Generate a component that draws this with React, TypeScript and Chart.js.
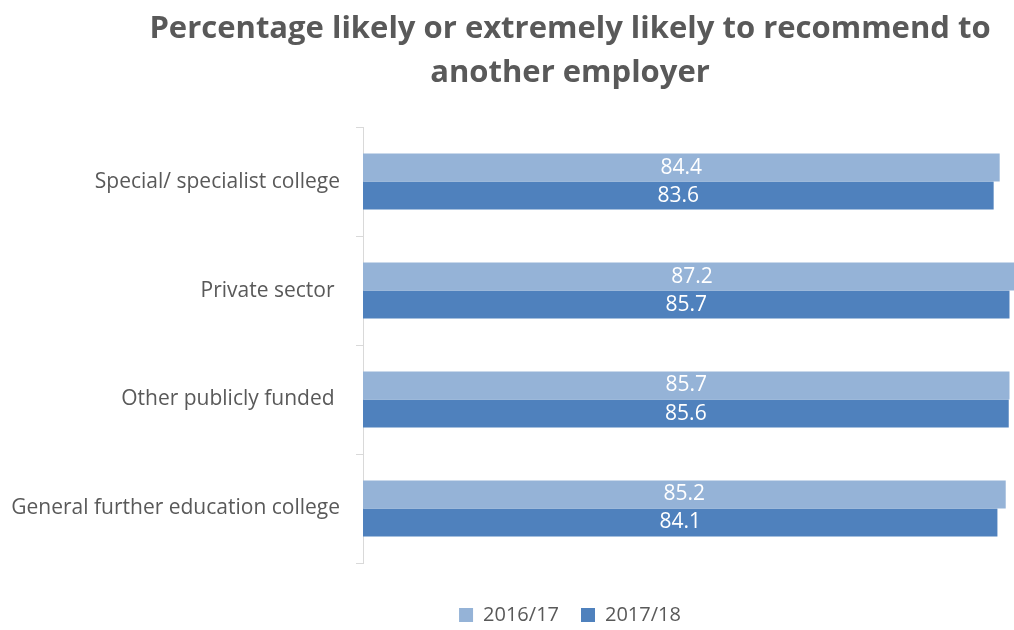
import React, { useEffect, useRef } from "react";
import { Chart, registerables } from "chart.js";

Chart.register(...registerables);

const titleLines = ["Percentage likely or extremely likely to recommend to", "another employer"];
const categories = [
  "Special/ specialist college",
  "Private sector ",
  "Other publicly funded ",
  "General further education college",
];
const seriesNames = ["2016/17", "2017/18"];
const values2016 = [84.4, 87.2, 85.7, 85.2];
const values2017 = [83.6, 85.7, 85.6, 84.1];
const colors = ["#95b3d7", "#4f81bd"];
const axisMin = 0;
const axisMax = 103;

const FONT = "'Open Sans', Lato, sans-serif";
const GREY = "#595959";

const valueLabels = {
  id: "valueLabels",
  afterDatasetsDraw(chart: any) {
    const ctx = chart.ctx;
    ctx.save();
    ctx.font = `21px ${FONT}`;
    ctx.fillStyle = "#ffffff";
    ctx.textAlign = "center";
    ctx.textBaseline = "middle";
    chart.data.datasets.forEach((ds: any, di: number) => {
      const meta = chart.getDatasetMeta(di);
      meta.data.forEach((el: any, i: number) => {
        const x = (el.base + el.x) / 2;
        ctx.fillText(ds.data[i].toFixed(1), x, el.y);
      });
    });
    ctx.restore();
  },
};

export default function App() {
  const ref = useRef<HTMLCanvasElement | null>(null);
  useEffect(() => {
    if (!ref.current) return;
    const chart = new Chart(ref.current, {
      type: "bar",
      data: {
        labels: categories,
        datasets: [
          { label: seriesNames[0], data: values2016, backgroundColor: colors[0] },
          { label: seriesNames[1], data: values2017, backgroundColor: colors[1] },
        ],
      },
      options: {
        indexAxis: "y",
        animation: false,
        responsive: true,
        maintainAspectRatio: false,
        layout: { padding: { left: 0, right: 0, top: 0, bottom: -5 } },
        datasets: { bar: { categoryPercentage: 0.514, barPercentage: 1 } },
        scales: {
          x: {
            display: true,
            min: axisMin,
            max: axisMax,
            grid: { display: false },
            border: { display: false },
            ticks: { display: false },
            afterFit(scale: any) {
              scale.height = 20;
            },
          },
          y: {
            afterFit(scale: any) {
              scale.width = 363;
            },
            grid: {
              display: true,
              drawOnChartArea: false,
              offset: true,
              tickLength: 7,
              color: "#d9d9d9",
            },
            border: { display: true, color: "#d9d9d9", width: 1 },
            ticks: { color: GREY, font: { family: FONT, size: 21 }, padding: 16 },
          },
        },
        plugins: {
          title: {
            display: true,
            text: titleLines,
            color: GREY,
            font: { family: FONT, size: 31, weight: "bold", lineHeight: 1.42 },
            padding: { top: 7, bottom: 32 },
          },
          legend: {
            position: "bottom",
            labels: {
              color: GREY,
              font: { family: FONT, size: 20 },
              boxWidth: 14,
              boxHeight: 14,
              padding: 22,
            },
          },
          tooltip: { enabled: false },
        },
      },
      plugins: [valueLabels],
    });
    return () => chart.destroy();
  }, []);
  return (
    <div style={{ position: "fixed", left: 0, top: 0, width: 1014, height: 630, overflow: "hidden", background: "#fff" }}>
      <div style={{ position: "relative", width: 1140, height: 630 }}>
        <canvas ref={ref} />
      </div>
    </div>
  );
}
